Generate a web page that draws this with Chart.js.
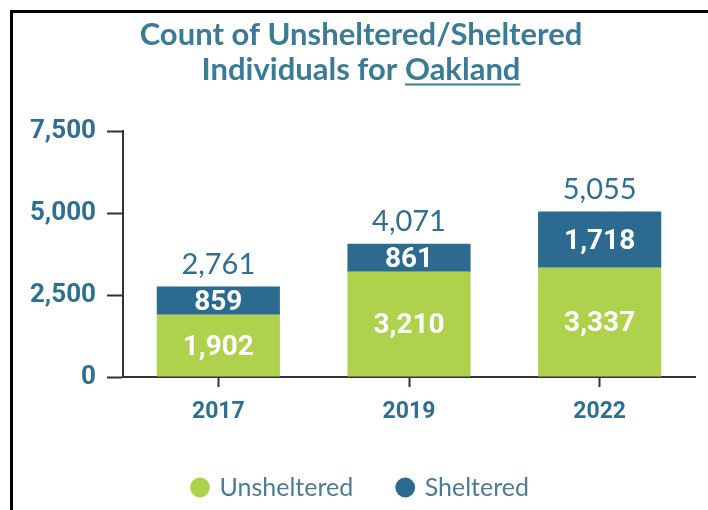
<!DOCTYPE html>
<html>
<head>
<meta charset="utf-8">
<script src="https://cdn.jsdelivr.net/npm/chart.js@4.4.1/dist/chart.umd.min.js"></script>
<style>
  html, body { margin: 0; padding: 0; background: #fff; }
</style>
</head>
<body>
<canvas id="chart" width="708" height="510"></canvas>
<script>
const years = ['2017', '2019', '2022'];
const unsheltered = [1902, 3210, 3337];
const sheltered = [859, 861, 1718];
const yMax = 7500;
const yStep = 2500;

const GREEN = '#aed24c';
const BLUE = '#2c6b8f';
const TEXT = '#2f6f93';
const AXIS = '#333333';

function fmt(v) {
    return Number(v).toLocaleString('en-US');
}

// white page + the black frame on the left and top
const framePlugin = {
    id: 'frame',
    beforeDraw(chart) {
        const ctx = chart.ctx;
        ctx.save();
        ctx.fillStyle = '#fff';
        ctx.fillRect(0, 0, chart.width, chart.height);
        ctx.fillStyle = '#000';
        ctx.fillRect(10, 10, 3, chart.height - 10);
        ctx.fillRect(10, 10, chart.width - 10, 3);
        ctx.restore();
    }
};

// values inside the segments and totals on top
const labelPlugin = {
    id: 'labels',
    afterDatasetsDraw(chart) {
        const ctx = chart.ctx;
        ctx.save();
        ctx.textAlign = 'center';
        ctx.textBaseline = 'middle';
        chart.data.datasets.forEach((ds, i) => {
            const meta = chart.getDatasetMeta(i);
            meta.data.forEach((bar, j) => {
                ctx.fillStyle = '#fff';
                ctx.font = 'bold 28px Roboto';
                ctx.fillText(fmt(ds.data[j]), bar.x, (bar.y + bar.base) / 2 + 2);
            });
        });
        const top = chart.getDatasetMeta(chart.data.datasets.length - 1);
        top.data.forEach((bar, j) => {
            const total = chart.data.datasets.reduce((s, ds) => s + ds.data[j], 0);
            ctx.fillStyle = TEXT;
            ctx.font = '29px Lato';
            ctx.fillText(fmt(total), bar.x, bar.y - 22);
        });
        ctx.restore();
    },
    afterDraw(chart) {
        const ctx = chart.ctx;
        ctx.save();
        // underline "Oakland" in the title
        const tb = chart.titleBlock;
        const opts = chart.options.plugins.title;
        const lines = opts.text;
        const lh = opts.font.size * opts.font.lineHeight;
        ctx.font = opts.font.weight + ' ' + opts.font.size + 'px ' + opts.font.family;
        const full = ctx.measureText(lines[1]).width;
        const pre = ctx.measureText('Individuals for ').width;
        const word = ctx.measureText('Oakland').width;
        const cx = (tb.left + tb.right) / 2;
        const x0 = cx - full / 2 + pre;
        const uy = tb.top + opts.padding.top + lh * 1.5 + 13;
        ctx.fillStyle = opts.color;
        ctx.fillRect(x0, uy, word, 2);
        ctx.restore();
    }
};

new Chart(document.getElementById('chart').getContext('2d'), {
    type: 'bar',
    data: {
        labels: years,
        datasets: [
            { label: 'Unsheltered', data: unsheltered, backgroundColor: GREEN, borderWidth: 0 },
            { label: 'Sheltered', data: sheltered, backgroundColor: BLUE, borderWidth: 0 }
        ]
    },
    options: {
        responsive: false,
        animation: false,
        categoryPercentage: 1,
        barPercentage: 0.646,
        layout: { padding: { left: 14, right: 0, top: 0, bottom: 0 } },
        plugins: {
            title: {
                display: true,
                text: ['Count of Unsheltered/Sheltered', 'Individuals for Oakland'],
                color: '#3a7b96',
                font: { family: 'Lato', size: 31, weight: 'bold', lineHeight: 1.15 },
                padding: { top: 17, bottom: 43 }
            },
            legend: {
                position: 'bottom',
                labels: {
                    usePointStyle: true,
                    pointStyle: 'circle',
                    boxWidth: 14,
                    boxHeight: 14,
                    padding: 45,
                    color: '#4b7c97',
                    font: { family: 'Lato', size: 25 }
                }
            },
            tooltip: { enabled: false }
        },
        scales: {
            x: {
                stacked: true,
                offset: true,
                grid: { drawOnChartArea: false, drawTicks: true, tickLength: 10, tickWidth: 2, tickColor: AXIS, offset: false },
                border: { display: true, color: AXIS, width: 2 },
                ticks: { color: TEXT, font: { family: 'Roboto', size: 23, weight: 'bold' }, padding: 11 },
                afterFit(s) { s.height = 53; }
            },
            y: {
                stacked: true,
                min: 0,
                max: yMax,
                grid: { drawOnChartArea: false, drawTicks: true, tickLength: 16, tickWidth: 2, tickColor: AXIS },
                border: { display: true, color: AXIS, width: 2 },
                ticks: { stepSize: yStep, callback: v => fmt(v), color: TEXT, font: { family: 'Roboto', size: 26, weight: 'bold' }, padding: 11 },
                afterFit(s) { s.width = 109; }
            },
            y2: {
                type: 'linear',
                position: 'right',
                display: true,
                grid: { display: false },
                border: { display: false },
                ticks: { display: false },
                afterFit(s) { s.width = 13; }
            }
        }
    },
    plugins: [framePlugin, labelPlugin]
});
</script>
</body>
</html>
